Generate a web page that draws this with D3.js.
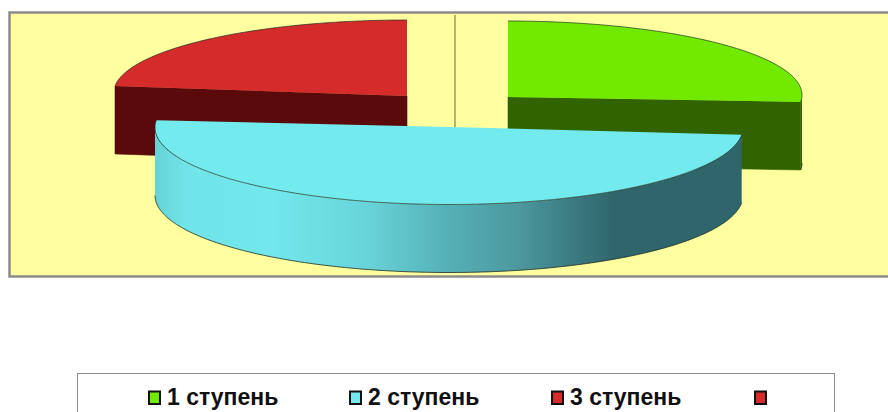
<!DOCTYPE html>
<html><head><meta charset="utf-8">
<script src="https://cdnjs.cloudflare.com/ajax/libs/d3/7.8.5/d3.min.js"></script>
<style>html,body{margin:0;padding:0;background:#fff;overflow:hidden}svg{display:block}</style>
</head><body><svg id="c" width="888" height="412"></svg>
<script>
const categories = ["1 ступень", "2 ступень", "3 ступень", ""];
const values = [26.5, 50, 23.5, 0];
const topColors = ["#72ea00", "#72eaee", "#d52b2b", "#a8a260"];
const sideColors = ["#316400", "#2f666c", "#5a0a0a", "#a8a260"];
const apexX = [508, 449, 407, 455];
const apexY = [97, 127, 96, 91];
const ellipseY = [95, 127.5, 92.8, 91];
const radiusX = [294, 294, 293.3, 293];
const radiusY = [74, 77, 72.8, 76];
const depth = 68;
const legendX = [148, 349, 551, 754];
const drawOrder = [3, 2, 0, 1];

const svg = d3.select("#c");
const arcs = d3.pie().sort(null)(values);
const defs = svg.append("defs");
const grad = defs.append("linearGradient").attr("id", "rimGrad").attr("gradientUnits", "userSpaceOnUse")
  .attr("x1", 155).attr("x2", 742).attr("y1", 0).attr("y2", 0);
[[0, "#66d2d6"], [0.05, "#70e4e8"], [0.2, "#72e8ec"], [0.36, "#68d4d9"], [0.5, "#55b0b6"], [0.62, "#4c989e"], [0.78, "#2f666c"], [1, "#2f666c"]]
  .forEach(s => grad.append("stop").attr("offset", s[0]).attr("stop-color", s[1]));

svg.append("rect").attr("x", 9.5).attr("y", 12.5).attr("width", 890).attr("height", 264)
  .attr("fill", "#ffff9f").attr("stroke", "#8c8c8c").attr("stroke-width", 2.5);

const line = d3.line();
const outline = "#1c2a20";
drawOrder.forEach(i => {
  const d = arcs[i];
  const rim = (a, dz = 0) => [apexX[i] + radiusX[i] * Math.sin(a), ellipseY[i] - radiusY[i] * Math.cos(a) + dz];
  const g = svg.append("g");
  if (d.endAngle === d.startAngle) {
    g.append("path").attr("d", line([rim(0), [apexX[i], apexY[i]], [apexX[i], apexY[i] + depth]]))
      .attr("fill", "none").attr("stroke", topColors[i]).attr("stroke-width", 1.6);
    return;
  }
  const steps = d3.range(d.startAngle, d.endAngle, 0.01).concat([d.endAngle]);
  const apex = [apexX[i], apexY[i]];
  const lo = Math.max(d.startAngle, Math.PI / 2), hi = Math.min(d.endAngle, 3 * Math.PI / 2);
  const face = (a) => {
    const p = rim(a);
    return [apex, p, [p[0], p[1] + depth], [apex[0], apex[1] + depth]];
  };
  if (d.endAngle < Math.PI) g.append("path").attr("d", line(face(d.endAngle)) + "Z").attr("fill", sideColors[i]).attr("stroke", sideColors[i]).attr("stroke-width", 0.6);
  if (d.startAngle > Math.PI) g.append("path").attr("d", line(face(d.startAngle)) + "Z").attr("fill", sideColors[i]).attr("stroke", sideColors[i]).attr("stroke-width", 0.6);
  if (hi > lo) {
    const rs = d3.range(lo, hi, 0.01).concat([hi]);
    const pts = rs.map(a => rim(a)).concat(rs.slice().reverse().map(a => rim(a, depth)));
    g.append("path").attr("d", line(pts) + "Z")
      .attr("fill", i === 1 ? "url(#rimGrad)" : sideColors[i]);
    g.append("path").attr("d", line(rs.map(a => rim(a, depth))))
      .attr("fill", "none").attr("stroke", outline).attr("stroke-width", 0.8);
  }
  g.append("path").attr("d", line([apex].concat(steps.map(a => rim(a)))) + "Z")
    .attr("fill", topColors[i]);
  g.append("path").attr("d", line(steps.map(a => rim(a))))
    .attr("fill", "none").attr("stroke", outline).attr("stroke-width", 0.8).attr("stroke-opacity", 0.85);
});

svg.append("rect").attr("x", 77.5).attr("y", 373.5).attr("width", 757).attr("height", 50)
  .attr("fill", "#fff").attr("stroke", "#8a8a8a").attr("stroke-width", 1);
categories.forEach((c, i) => {
  svg.append("rect").attr("x", legendX[i] + 1).attr("y", 391.5).attr("width", 11).attr("height", 12.5)
    .attr("fill", topColors[i === 3 ? 2 : i]).attr("stroke", "#111").attr("stroke-width", 2);
  if (c) svg.append("text").attr("x", legendX[i] + 19).attr("y", 405)
    .attr("font-family", "Liberation Sans, Arial, sans-serif").attr("font-weight", 700).attr("font-size", 23)
    .attr("fill", "#111").text(c);
});
</script></body></html>
